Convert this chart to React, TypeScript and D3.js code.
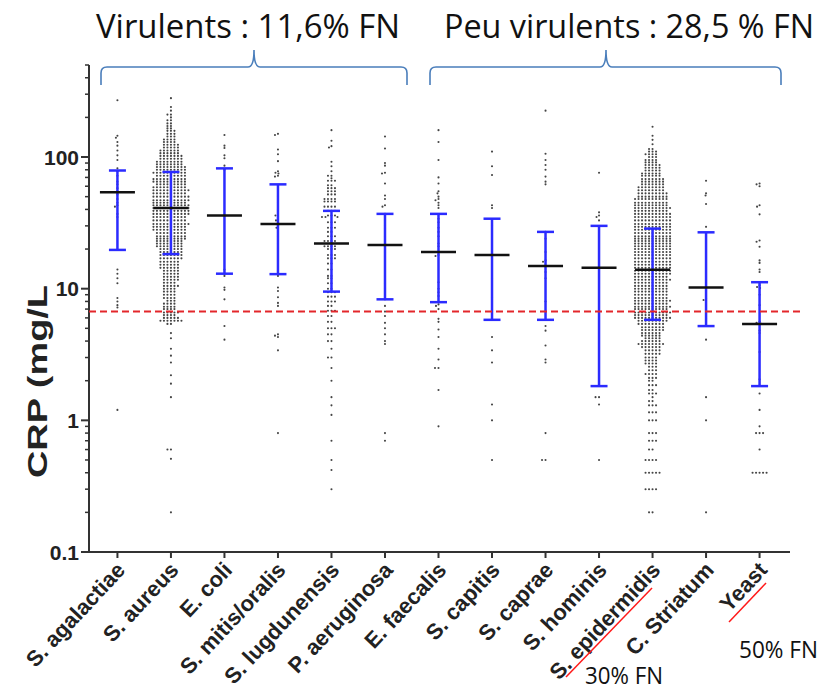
import React from 'react';
import * as d3 from 'd3';

const categories = [
  'S. agalactiae', 'S. aureus', 'E. coli', 'S. mitis/oralis', 'S. lugdunensis', 'P. aeruginosa',
  'E. faecalis', 'S. capitis', 'S. caprae', 'S. hominis', 'S. epidermidis', 'C. Striatum', 'Yeast',
];
const medians = [54, 41, 36, 31, 22, 21.5, 19, 18, 14.9, 14.4, 13.9, 10.2, 5.4];
const upperBars = [79, 77, 82, 62, 39, 37, 37, 34, 27, 30, 28.6, 26.8, 11.2];
const lowerBars = [19.7, 18.3, 13, 12.9, 9.5, 8.3, 7.9, 5.8, 5.8, 1.82, 5.8, 5.2, 1.82];
const cutoff = 6.7;
const yTicks = [0.1, 1, 10, 100];

// single values
const agalactiae = [270, 145, 140, 130, 122, 112, 103, 95, 82, 78, 72, 65, 62, 58, 55, 52, 48, 45, 43, 42, 37, 35, 14, 13, 12, 11, 8.5, 8, 7.5, 7.2, 1.2];
const coli = [147, 122, 117, 103, 98, 86, 80, 36, 14, 13, 12.5, 10.2, 9.8, 8.3, 5.2, 4.1];
const mitis = [150, 147, 114, 105, 93, 78, 76, 75, 72, 71, 50, 45, 40, 37, 36, 34, 33, 30, 29, 27, 25, 22, 20, 12.5, 10.2, 9.6, 8.6, 7.8, 7.4, 4.5, 4.4, 4.3, 3.4, 0.8];
const aeruginosa = [143, 116, 90, 86, 76, 75, 63, 51, 48, 43, 42, 37, 35, 33, 30, 28.6, 25, 23, 21, 19, 17.7, 12.5, 11, 10, 8.3, 7.4, 6.7, 6.2, 5.5, 5, 4.5, 4, 3.8, 0.8, 0.7];
const faecalis = [160, 130, 95, 70, 63, 55, 53, 50, 48, 47, 45, 43, 41, 34, 32, 29, 27, 25, 22, 21, 19, 18, 17.7, 11.2, 10, 9.4, 8.8, 7.9, 7.6, 7.4, 7, 5.9, 5.6, 4.9, 4.3, 3.5, 2.9, 2.5, 2.5, 1.7, 0.9];
const capitis = [110, 85, 73, 43, 41, 30, 18, 12, 8.6, 6.5, 4.3, 3.4, 2.75, 1.32, 1.0, 0.5];
const caprae = [225, 106, 95, 87, 80, 71, 65, 62, 27, 24, 19, 16.4, 16, 13.4, 12, 8, 5.2, 4.8, 3.7, 2.9, 2.75, 0.8, 0.5, 0.5];
const hominis = [76, 38, 36, 35, 33, 1.5, 1.5, 1.32, 0.5];
const striatum = [66, 53, 51, 44, 29.5, 8.4, 8.2, 5.9, 4.1, 1.5, 1.0, 0.2];
const yeast = [63, 62, 60, 43, 42, 36.7, 23.2, 22.7, 20.8, 16.4, 15.7, 14, 13.4, 10.6, 10.3, 10.1, 9, 7.5, 5.6, 5.5, 5.4, 4.8, 4.6, 3.3, 2.05, 1.6, 1.2, 0.9, 0.8, 0.8, 0.8, 0.6, 0.4, 0.4, 0.4, 0.4, 0.4];

// [value, count] rows for the dense groups
const aureusRows: [number, number][] = [
  [280, 1], [240, 1], [225, 1], [210, 2], [200, 1], [190, 2], [180, 2], [172, 2], [165, 2], [158, 3], [150, 3],
  [143, 3], [136, 4], [130, 4], [124, 5], [118, 5], [112, 6], [107, 6], [102, 7], [97, 7], [92, 8], [88, 8],
  [84, 9], [80, 9], [76, 10], [72, 9], [68, 10], [65, 10], [62, 9], [59, 10], [56, 11], [53, 10], [50, 11],
  [47, 11], [45, 10], [43, 11], [41, 11], [39, 11], [37, 11], [35, 10], [33, 10], [31, 11], [29.5, 10], [28, 10],
  [26.5, 9], [25, 9], [24, 9], [23, 8], [22, 8], [21, 8], [20, 7], [19, 7], [18, 7], [17, 7], [16, 6],
  [15.2, 6], [14.4, 6], [13.7, 5], [13, 5], [12.3, 5], [11.7, 5], [11.1, 4], [10.5, 5], [10, 4], [9.5, 4],
  [9, 4], [8.5, 4], [8.1, 3], [7.7, 4], [7.3, 4], [7, 4], [6.6, 5], [6.3, 4], [6, 5], [5.7, 7], [5.4, 2],
  [4.6, 1], [4.2, 1], [3.5, 1], [3.1, 1], [2.75, 1], [2.2, 1], [1.9, 1], [1.5, 1], [0.6, 2], [0.51, 1], [0.2, 1],
];
const lugdunensisRows: [number, number][] = [
  [160, 1], [133, 1], [121, 1], [118, 1], [92, 1], [85, 1], [78, 1], [72, 2], [69, 1], [66, 3], [61, 2], [58, 3],
  [55, 3], [52, 3], [48, 4], [46, 4], [42, 4], [39, 3], [36, 3], [35, 3], [32, 3], [29, 3], [27, 2], [25, 3],
  [23, 4], [21, 4], [20, 3], [18, 3], [17, 3], [15.5, 2], [14, 2], [12.5, 2], [12, 2], [11, 2], [10, 2],
  [9.4, 3], [8.7, 3], [8, 3], [7.4, 2], [6.8, 3], [6.2, 2], [5.6, 2], [5, 3], [4.5, 2], [4, 2], [3.5, 1],
  [3, 2], [2.5, 1], [2, 1], [1.5, 1], [1.3, 1], [1.1, 1], [0.7, 1], [0.5, 1], [0.42, 1], [0.3, 1],
];
const epidermidisRows: [number, number][] = [
  [170, 1], [145, 1], [135, 1], [125, 1], [115, 2], [110, 3], [105, 4], [100, 3], [95, 4], [91, 4], [87, 5],
  [83, 5], [79, 5], [75, 6], [72, 6], [68, 7], [65, 7], [62, 7], [59, 8], [56, 8], [53, 9], [50, 9], [48, 10],
  [45, 10], [43, 10], [41, 11], [39, 10], [37, 11], [35, 11], [33, 11], [31, 11], [29.5, 11], [28, 11],
  [26.5, 11], [25, 11], [24, 11], [23, 11], [22, 11], [21, 11], [20, 11], [19, 11], [18, 11], [17, 11],
  [16, 11], [15.2, 11], [14.4, 11], [13.7, 11], [13, 11], [12.3, 10], [11.7, 11], [11.1, 10], [10.5, 10],
  [10, 10], [9.5, 10], [9, 10], [8.5, 10], [8.1, 11], [7.7, 10], [7.3, 11], [7, 10], [6.6, 11], [6.3, 10],
  [6, 11], [5.7, 9], [5.4, 8], [5.1, 7], [4.85, 7], [4.6, 6], [4.4, 6], [4.2, 5], [4, 6], [3.8, 8], [3.6, 6],
  [3.4, 5], [3.2, 5], [3, 4], [2.85, 4], [2.7, 4], [2.55, 3], [2.4, 3], [2.25, 4], [2.1, 3], [2, 2], [1.85, 3],
  [1.7, 2], [1.6, 3], [1.5, 1], [1.4, 2], [1.3, 3], [1.15, 3], [1, 3], [0.8, 3], [0.7, 3], [0.6, 2], [0.5, 4],
  [0.4, 5], [0.3, 4], [0.2, 2],
];

const expand = (rows: [number, number][]) => rows.flatMap(([v, n]) => d3.range(n).map(() => v));

const groups = [
  agalactiae, expand(aureusRows), coli, mitis, expand(lugdunensisRows), aeruginosa,
  faecalis, capitis, caprae, hominis, expand(epidermidisRows), striatum, yeast,
];

const W = 831;
const H = 691;

const x = d3.scalePoint<string>().domain(categories).range([88, 789]).padding(0.55);
const y = d3.scaleLog().domain([0.1, 500]).range([552, 65]);

// row-style beeswarm: nearest free horizontal offset, elliptical collision
function swarm(values: number[], cx: number, sx = 3.1, sy = 2.2) {
  const sorted = [...values].sort((a, b) => b - a);
  const placed: { x: number; y: number }[] = [];
  for (const v of sorted) {
    const py = y(v);
    let px = cx;
    for (let k = 0; k < 400; k++) {
      const off = (k % 2 === 0 ? 1 : -1) * Math.ceil(k / 2) * 0.5;
      const tx = cx + off;
      let ok = true;
      for (let i = placed.length - 1; i >= 0; i--) {
        const p = placed[i];
        if (py - p.y >= sy) break;
        if (((p.x - tx) / sx) ** 2 + ((p.y - py) / sy) ** 2 < 1) { ok = false; break; }
      }
      if (ok) { px = tx; break; }
    }
    placed.push({ x: px, y: py });
  }
  return placed;
}

const minorTicks = [0.1, 1, 10, 100].flatMap(d => d3.range(2, 10).map(k => d * k)).filter(v => v <= 500);

const blue = '#2b2bff';
const brace = '#4a7ebb';

export default function App() {
  const swarms = groups.map((g, i) => swarm(g, x(categories[i])!));
  return (
    <svg width={W} height={H} style={{ position: 'absolute', left: 0, top: 0, background: '#fff' }}
      fontFamily="'Liberation Sans', Arial, sans-serif">
      {/* titles */}
      <text x={96} y={38} fontFamily="'Open Sans', sans-serif" fontSize={33} textLength={304}
        lengthAdjust="spacingAndGlyphs" fill="#111">Virulents : 11,6% FN</text>
      <text x={444} y={38} fontFamily="'Open Sans', sans-serif" fontSize={33} textLength={370}
        lengthAdjust="spacingAndGlyphs" fill="#111">Peu virulents : 28,5 % FN</text>

      {/* braces */}
      <path d="M101,85 V73 Q101,67 107,67 H248 Q254,67 254,50 Q254,67 260,67 H401 Q407,67 407,73 V85"
        fill="none" stroke={brace} strokeWidth={1.6} />
      <path d="M430,85 V73 Q430,67 436,67 H600 Q606,67 606,50 Q606,67 612,67 H775 Q781,67 781,73 V85"
        fill="none" stroke={brace} strokeWidth={1.6} />

      {/* y axis */}
      <line x1={89} x2={89} y1={65} y2={553} stroke="#333" strokeWidth={2} />
      {minorTicks.map(t => (
        <line key={`m${t}`} x1={85} x2={89} y1={y(t)} y2={y(t)} stroke="#333" strokeWidth={1.5} />
      ))}
      {yTicks.map(t => (
        <g key={`t${t}`}>
          <line x1={81} x2={89} y1={y(t)} y2={y(t)} stroke="#333" strokeWidth={2} />
          <text x={79} y={y(t)} dy="0.36em" textAnchor="end" fontSize={21} fontWeight="bold" fill="#222">{t}</text>
        </g>
      ))}
      <text transform="translate(47,478) rotate(-90)" fontSize={28} fontWeight="bold" fill="#222"
        textLength={193} lengthAdjust="spacingAndGlyphs">CRP (mg/L</text>

      {/* x axis */}
      <line x1={83} x2={790} y1={552} y2={552} stroke="#333" strokeWidth={2} />
      {categories.map(c => (
        <g key={c}>
          <line x1={x(c)} x2={x(c)} y1={552} y2={558} stroke="#333" strokeWidth={2} />
          <text transform={`translate(${x(c)! + 9},571) rotate(-47)`} textAnchor="end" fontSize={22}
            fontWeight="bold" fill="#222">{c}</text>
        </g>
      ))}

      {/* dots */}
      {swarms.map((pts, i) => (
        <g key={`s${i}`} fill="#444">
          {pts.map((p, j) => <circle key={j} cx={p.x} cy={p.y} r={1.05} />)}
        </g>
      ))}

      {/* error bars */}
      {categories.map((c, i) => {
        const cx = x(c)!;
        return (
          <g key={`e${c}`} stroke={blue} strokeWidth={2.5}>
            <line x1={cx} x2={cx} y1={y(upperBars[i])} y2={y(lowerBars[i])} />
            <line x1={cx - 8.5} x2={cx + 8.5} y1={y(upperBars[i])} y2={y(upperBars[i])} />
            <line x1={cx - 8.5} x2={cx + 8.5} y1={y(lowerBars[i])} y2={y(lowerBars[i])} />
          </g>
        );
      })}
      {categories.map((c, i) => (
        <line key={`md${c}`} x1={x(c)! - 17.5} x2={x(c)! + 17.5} y1={y(medians[i])} y2={y(medians[i])}
          stroke="#111" strokeWidth={2.5} />
      ))}

      {/* cutoff */}
      <line x1={89} x2={800} y1={y(cutoff)} y2={y(cutoff)} stroke="#e3262b" strokeWidth={2}
        strokeDasharray="7 4" />

      {/* annotations */}
      <line x1={566} y1={677} x2={652} y2={588} stroke="#ff1a1a" strokeWidth={1.5} />
      <line x1={729} y1={622} x2={766} y2={583} stroke="#ff1a1a" strokeWidth={1.5} />
      <text x={585} y={684} fontFamily="'Open Sans', sans-serif" fontSize={24} textLength={78}
        lengthAdjust="spacingAndGlyphs" fill="#111">30% FN</text>
      <text x={739} y={658} fontFamily="'Open Sans', sans-serif" fontSize={24} textLength={79}
        lengthAdjust="spacingAndGlyphs" fill="#111">50% FN</text>
    </svg>
  );
}
